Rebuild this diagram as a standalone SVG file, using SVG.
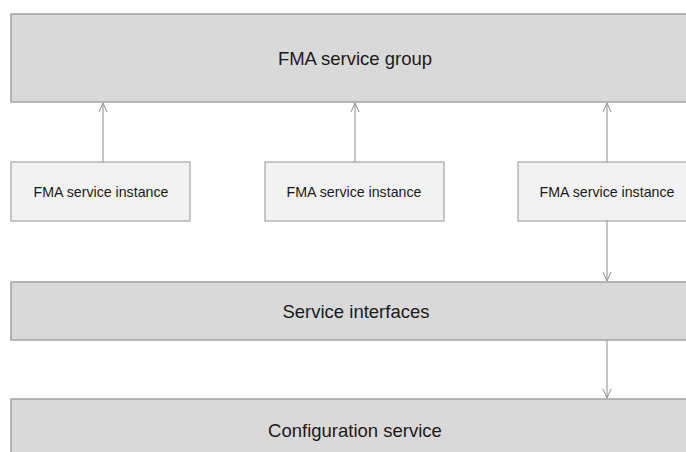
<svg xmlns="http://www.w3.org/2000/svg" width="686" height="452" viewBox="0 0 686 452">
  <style>
    .band { fill: #d9d9d9; stroke: #a3a3a3; stroke-width: 1.5; }
    .inst { fill: #f2f2f2; stroke: #a3a3a3; stroke-width: 1.2; }
    .lbl { font-family: "Liberation Sans", Arial, sans-serif; fill: #1a1a1a; text-anchor: middle; dominant-baseline: central; }
    .big { font-size: 18.5px; }
    .small { font-size: 14.2px; }
    .link { stroke: #8f8f8f; stroke-width: 1; fill: none; marker-end: url(#chev); }
  </style>
  <defs>
    <marker id="chev" viewBox="0 0 10 10" refX="10" refY="5" markerWidth="10" markerHeight="10" markerUnits="userSpaceOnUse" orient="auto">
      <path d="M1 1 L10 5 L1 9" fill="none" stroke="#8f8f8f" stroke-width="1"/>
    </marker>
  </defs>
  <rect width="686" height="452" fill="#ffffff"/>

  <g id="fma-service-group">
    <rect class="band" x="11" y="14" width="690" height="88"/>
    <text class="lbl big" x="355" y="58">FMA service group</text>
  </g>

  <g id="fma-service-instance-1">
    <rect class="inst" x="11" y="162" width="179" height="59"/>
    <text class="lbl small" x="101" y="192">FMA service instance</text>
  </g>
  <g id="fma-service-instance-2">
    <rect class="inst" x="265" y="162" width="179" height="59"/>
    <text class="lbl small" x="354" y="192">FMA service instance</text>
  </g>
  <g id="fma-service-instance-3">
    <rect class="inst" x="518" y="162" width="179" height="59"/>
    <text class="lbl small" x="607" y="192">FMA service instance</text>
  </g>

  <g id="service-interfaces">
    <rect class="band" x="11" y="282" width="690" height="58"/>
    <text class="lbl big" x="356" y="311">Service interfaces</text>
  </g>

  <g id="configuration-service">
    <rect class="band" x="11" y="399" width="690" height="70"/>
    <text class="lbl big" x="355" y="430">Configuration service</text>
  </g>

  <g id="connectors">
    <line class="link" x1="103" y1="162" x2="103" y2="103"/>
    <line class="link" x1="355" y1="162" x2="355" y2="103"/>
    <line class="link" x1="607" y1="162" x2="607" y2="103"/>
    <line class="link" x1="607" y1="221" x2="607" y2="281"/>
    <line class="link" x1="607" y1="340" x2="607" y2="398"/>
  </g>
</svg>
